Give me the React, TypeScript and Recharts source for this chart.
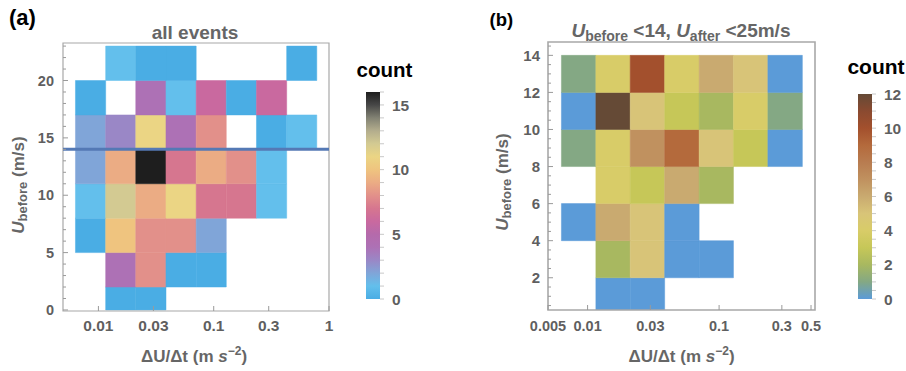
import { ScatterChart, Scatter, XAxis, YAxis, ReferenceArea, ReferenceLine } from 'recharts'

const FONT = '"Liberation Sans", Arial, Helvetica, sans-serif'
const TICK_COLOR = '#5f5f5f'

// x bin edges (m s^-2), log spaced, same grid in both panels
const xEdges = [0.006324, 0.011561, 0.021086, 0.038548, 0.070469, 0.128529, 0.234963, 0.429536, 0.78343]

// panel (a): all events
const yEdgesA = [0, 2, 5, 8, 11, 14, 17, 20, 23]
// rows bottom -> top, columns left -> right, null = empty bin
const countsA: (number | null)[][] = [
    [null, 0, 0, null, null, null, null, null],
    [null, 4, 8, 0, 0, null, null, null],
    [0, 10, 8, 8, 2, null, null, null],
    [1, 12, 9, 11, 7, 7, 1, null],
    [2, 9, 16, 7, 9, 8, 1, null],
    [2, 3, 11, 4, 8, null, 0, 1],
    [0, null, 4, 1, 6, 0, 6, null],
    [null, 1, 0, 0, null, null, null, 0],
]
const paletteA = [
    '#4aade4', '#63bfec', '#80a5d8', '#9a87c6', '#ad71b5', '#b56aab', '#c9699f',
    '#d6768f', '#e2908a', '#ebac84', '#efc47f', '#ebd584', '#d3ca92', '#b3ad8d',
    '#828273', '#474747', '#1e1e1e',
]
const xTicksA = [0.01, 0.03, 0.1, 0.3, 1]
const yMajorA = [0, 5, 10, 15, 20]
const legendTicksA = [0, 5, 10, 15]

// panel (b): U_before < 14, U_after < 25 m/s
const yEdgesB = [0, 2, 4, 6, 8, 10, 12, 14]
const countsB: (number | null)[][] = [
    [null, 0, 0, null, null, null, null],
    [null, 2, 5, 0, 0, null, null],
    [0, 6, 5, 0, null, null, null],
    [null, 4, 3, 6, 2, null, null],
    [1, 4, 7, 9, 5, 3, 0],
    [0, 12, 5, 3, 2, 4, 1],
    [1, 4, 10, 4, 6, 5, 0],
]
const paletteB = [
    '#5b9bd8', '#84a884', '#a8b860', '#c6c758', '#d8cc68', '#d8c478', '#c9aa70',
    '#c0915f', '#b87c50', '#b46a3c', '#a3502d', '#8a4a30', '#654a36',
]
const xTicksB = [0.005, 0.01, 0.03, 0.1, 0.3, 0.5]
const yMajorB = [2, 4, 6, 8, 10, 12, 14]
const legendTicksB = [0, 2, 4, 6, 8, 10, 12]

const range = (from: number, to: number, step: number) => {
    const out: number[] = []
    for (let v = from; v <= to + 1e-9; v += step) out.push(Math.round(v * 100) / 100)
    return out
}

const cellsOf = (counts: (number | null)[][], yEdges: number[]) => {
    const out: { x1: number; x2: number; y1: number; y2: number; x: number; y: number; c: number }[] = []
    counts.forEach((row, r) =>
        row.forEach((c, k) => {
            if (c === null) return
            out.push({
                x1: xEdges[k],
                x2: xEdges[k + 1],
                y1: yEdges[r],
                y2: yEdges[r + 1],
                x: Math.sqrt(xEdges[k] * xEdges[k + 1]),
                y: (yEdges[r] + yEdges[r + 1]) / 2,
                c,
            })
        })
    )
    return out
}

const makeYTick = (major: number[], labelGap: number, size: number) => (props: any) => {
    const { x, y, payload } = props
    const isMajor = major.includes(payload.value)
    return (
        <g>
            <line x1={x} x2={x + (isMajor ? 5 : 3)} y1={y} y2={y} stroke="#9a9a9a" />
            {isMajor && (
                <text x={x - labelGap} y={y} dy={size * 0.36} textAnchor="end" fontFamily={FONT}
                    fontWeight="bold" fontSize={size} fill={TICK_COLOR}>
                    {payload.value}
                </text>
            )}
        </g>
    )
}

const makeXTick = (gap: number, size: number) => (props: any) => {
    const { x, y, payload } = props
    return (
        <g>
            <line x1={x} x2={x} y1={y} y2={y - 5} stroke="#9a9a9a" />
            <text x={x} y={y + gap} textAnchor="middle" fontFamily={FONT} fontWeight="bold"
                fontSize={size} fill={TICK_COLOR}>
                {payload.value}
            </text>
        </g>
    )
}

const makeLegendTick = (major: number[]) => (props: any) => {
    const { x, y, payload } = props
    const isMajor = major.includes(payload.value)
    return (
        <g>
            <line x1={x} x2={x + 4} y1={y} y2={y} stroke="#c8c8c8" />
            {isMajor && (
                <text x={x + 12} y={y} dy={5.6} textAnchor="start" fontFamily={FONT} fontWeight="bold"
                    fontSize={15.5} fill={TICK_COLOR}>
                    {payload.value}
                </text>
            )}
        </g>
    )
}

interface HeatProps {
    width: number
    left: number
    bottom: number
    margin: { top: number; right: number }
    xDomain: [number, number]
    yDomain: [number, number]
    xTicks: number[]
    yTicks: number[]
    yMajor: number[]
    yEdges: number[]
    counts: (number | null)[][]
    palette: string[]
    tickSize: number
    xTickSize: number
    yGap: number
    xGap: number
    frameWidth: number
    lineAt?: number
}

const Heatmap = (p: HeatProps) => {
    const cells = cellsOf(p.counts, p.yEdges)
    return (
        <ScatterChart width={p.width} height={371}
            margin={{ top: p.margin.top, right: p.margin.right, left: 0, bottom: 0 }}>
            <XAxis type="number" dataKey="x" scale="log" domain={p.xDomain} allowDataOverflow
                ticks={p.xTicks} interval={0} height={p.bottom} tickSize={0} tickMargin={0}
                axisLine={false} tickLine={false} tick={makeXTick(p.xGap, p.xTickSize)} />
            <YAxis type="number" dataKey="y" domain={p.yDomain} allowDataOverflow
                ticks={p.yTicks} interval={0} width={p.left} tickSize={0} tickMargin={0}
                axisLine={false} tickLine={false} tick={makeYTick(p.yMajor, p.yGap, p.tickSize)} />
            {cells.map((c, i) => (
                <ReferenceArea key={i} x1={c.x1} x2={c.x2} y1={c.y1} y2={c.y2} ifOverflow="hidden"
                    fill={p.palette[c.c]} fillOpacity={1} stroke={p.palette[c.c]} strokeWidth={0.5} />
            ))}
            <Scatter data={cells} isAnimationActive={false} fill="none" shape={() => <g />} />
            {p.lineAt !== undefined && (
                <ReferenceLine y={p.lineAt} stroke="#5479b5" strokeWidth={3} ifOverflow="visible" />
            )}
            <ReferenceArea x1={p.xDomain[0]} x2={p.xDomain[1]} y1={p.yDomain[0]} y2={p.yDomain[1]}
                fill="none" stroke="#a8a8a8" strokeWidth={p.frameWidth} ifOverflow="visible" />
        </ScatterChart>
    )
}

interface LegendProps {
    id: string
    width: number
    top: number
    barLeft: number
    barWidth: number
    bottom: number
    palette: string[]
    ticks: number[]
    major: number[]
}

const ColorBar = (p: LegendProps) => {
    const max = p.palette.length - 1
    return (
        <ScatterChart width={p.width} height={371}
            margin={{ top: p.top, left: p.barLeft, right: 0, bottom: p.bottom }}>
            <defs>
                <linearGradient id={p.id} x1="0" y1="1" x2="0" y2="0">
                    {p.palette.map((col, i) => (
                        <stop key={i} offset={i / max} stopColor={col} />
                    ))}
                </linearGradient>
            </defs>
            <XAxis type="number" dataKey="x" domain={[0, 1]} hide />
            <YAxis type="number" dataKey="y" orientation="right" domain={[0, max]} allowDataOverflow
                ticks={p.ticks} interval={0} width={p.width - p.barLeft - p.barWidth} tickSize={0} tickMargin={0}
                axisLine={false} tickLine={false} tick={makeLegendTick(p.major)} />
            <Scatter data={[{ x: 0.5, y: 0 }]} isAnimationActive={false} fill="none" shape={() => <g />} />
            <ReferenceArea x1={0} x2={1} y1={0} y2={max} fill={`url(#${p.id})`} fillOpacity={1} ifOverflow="visible" />
        </ScatterChart>
    )
}

const Texts = () => (
    <svg width={906} height={371} style={{ position: 'absolute', left: 0, top: 0, pointerEvents: 'none' }}
        fontFamily={FONT} fontWeight="bold">
        <text x={9} y={24.5} fontSize={22} fill="#000">(a)</text>
        <text x={195} y={38.5} fontSize={19} fill="#666" textAnchor="middle">all events</text>
        <text x={384.5} y={77} fontSize={20.5} fill="#000" textAnchor="middle">count</text>
        <text transform="translate(24,185) rotate(-90)" fontSize={17} fill="#666" textAnchor="middle">
            <tspan fontStyle="italic">U</tspan>
            <tspan fontSize={13} dy={3}>before</tspan>
            <tspan dy={-3}>{'  (m/s)'}</tspan>
        </text>
        <text x={194} y={362} fontSize={17} fill="#666" textAnchor="middle">
            <tspan>{'ΔU/Δt (m '}</tspan>
            <tspan fontStyle="italic">s</tspan>
            <tspan fontSize={12} dy={-7}>−2</tspan>
            <tspan dy={7}>)</tspan>
        </text>

        <text x={489.5} y={26} fontSize={18.5} fill="#000">(b)</text>
        <text x={681} y={37} fontSize={19} fill="#666" textAnchor="middle">
            <tspan fontStyle="italic">U</tspan>
            <tspan fontSize={14} dy={4}>before</tspan>
            <tspan dy={-4}>{' <14, '}</tspan>
            <tspan fontStyle="italic">U</tspan>
            <tspan fontSize={14} dy={4}>after</tspan>
            <tspan dy={-4}>{' <25m/s'}</tspan>
        </text>
        <text x={876} y={74} fontSize={21} fill="#000" textAnchor="middle">count</text>
        <text transform="translate(508,182) rotate(-90)" fontSize={17} fill="#666" textAnchor="middle">
            <tspan fontStyle="italic">U</tspan>
            <tspan fontSize={13} dy={3}>before</tspan>
            <tspan dy={-3}>{'  (m/s)'}</tspan>
        </text>
        <text x={681.5} y={362} fontSize={17} fill="#666" textAnchor="middle">
            <tspan>{'ΔU/Δt (m '}</tspan>
            <tspan fontStyle="italic">s</tspan>
            <tspan fontSize={12} dy={-7}>−2</tspan>
            <tspan dy={7}>)</tspan>
        </text>
    </svg>
)

export default function App() {
    return (
        <div style={{ position: 'absolute', left: 0, top: 0, width: 906, height: 371, background: '#fff', overflow: 'hidden' }}>
            <div style={{ position: 'absolute', left: 0, top: 0 }}>
                <Heatmap width={345} left={63} bottom={60} margin={{ top: 43, right: 16 }}
                    xDomain={[0.00493, 1.0]} yDomain={[-0.09, 23.27]} xTicks={xTicksA}
                    yTicks={range(0, 23, 1)} yMajor={yMajorA} yEdges={yEdgesA} counts={countsA}
                    palette={paletteA} tickSize={14.5} xTickSize={15.5} yGap={9} xGap={19.5} frameWidth={1.2} lineAt={14} />
            </div>
            <div style={{ position: 'absolute', left: 330, top: 0 }}>
                <ColorBar id="gradA" width={100} top={92} bottom={72} barLeft={36} barWidth={14}
                    palette={paletteA} ticks={range(0, 16, 1)} major={legendTicksA} />
            </div>
            <div style={{ position: 'absolute', left: 480, top: 0 }}>
                <Heatmap width={426} left={68} bottom={61} margin={{ top: 42, right: 91 }}
                    xDomain={[0.005, 0.536]} yDomain={[0.26, 14.72]} xTicks={xTicksB}
                    yTicks={range(0.5, 14.5, 0.5)} yMajor={yMajorB} yEdges={yEdgesB} counts={countsB}
                    palette={paletteB} tickSize={15} xTickSize={14.5} yGap={8} xGap={20.5} frameWidth={1.6} />
            </div>
            <div style={{ position: 'absolute', left: 820, top: 0 }}>
                <ColorBar id="gradB" width={86} top={94} bottom={72} barLeft={38} barWidth={14}
                    palette={paletteB} ticks={range(0, 12, 0.5)} major={legendTicksB} />
            </div>
            <Texts />
        </div>
    )
}
